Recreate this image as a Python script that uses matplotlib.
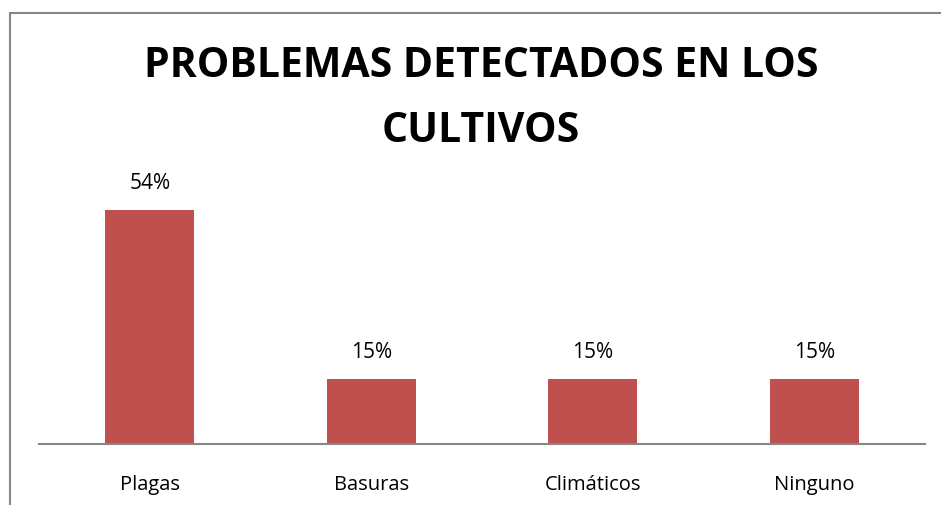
import matplotlib
matplotlib.use("Agg")
import matplotlib.pyplot as plt
from matplotlib.patches import Rectangle

categories = ["Plagas", "Basuras", "Climáticos", "Ninguno"]
values = [54, 15, 15, 15]
value_labels = ["54%", "15%", "15%", "15%"]

W, H = 941, 506
fig = plt.figure(figsize=(W / 100, H / 100), dpi=100)
plt.rcParams["font.family"] = ["Open Sans", "DejaVu Sans"]

# chart border (left and top edges visible, rest cut off)
fig.add_artist(Rectangle((10 / W, -0.1), 1.2, (H - 14) / H + 0.1, transform=fig.transFigure,
                         fill=False, edgecolor="#868686", linewidth=1.5))

ax = fig.add_axes([39 / W, (H - 445) / H, (925 - 39) / W, 260 / H])
x = list(range(len(categories)))
ax.bar(x, values, width=0.4, color="#C0504D")
ax.set_xlim(-0.5, len(categories) - 0.5)
ax.set_ylim(0, 60)

for xi, v, lab in zip(x, values, value_labels):
    ax.annotate(lab, (xi, v), xytext=(0, 12), textcoords="offset points",
                ha="center", va="bottom", fontsize=15)

ax.set_xticks(x)
ax.set_xticklabels(categories, fontsize=14.5)
ax.tick_params(axis="x", length=0, pad=21.5)
ax.set_yticks([])
for s in ["top", "right", "left"]:
    ax.spines[s].set_visible(False)
ax.spines["bottom"].set_color("#868686")
ax.spines["bottom"].set_linewidth(1.5)

fig.text(481 / W, 1 - 99 / H, "PROBLEMAS DETECTADOS EN LOS\nCULTIVOS", ha="center", va="center",
         fontsize=29.5, fontweight="bold", linespacing=1.75)

fig.savefig("out.png", dpi=100)
